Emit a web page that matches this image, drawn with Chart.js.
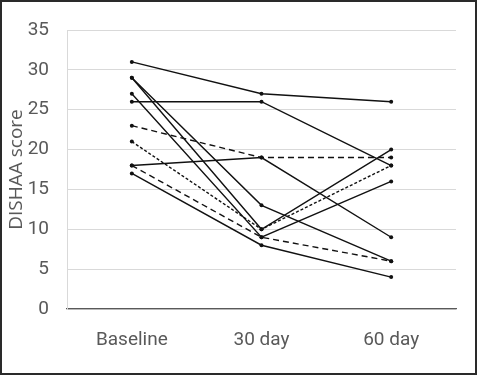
<!DOCTYPE html>
<html>
<head>
<meta charset="utf-8">
<script src="https://cdn.jsdelivr.net/npm/chart.js@4.4.1/dist/chart.umd.min.js"></script>
<style>
  html, body { margin: 0; padding: 0; background: #fff; }
  #wrap { position: relative; width: 477px; height: 375px; }
  #frame { position: absolute; left: 0; top: 0; width: 477px; height: 375px; box-sizing: border-box; border: 2px solid #2a2a2a; pointer-events: none; }
</style>
</head>
<body>
<div id="wrap">
  <canvas id="chart" width="477" height="375"></canvas>
  <div id="frame"></div>
</div>
<script>
// ===== data =====
const categories = ["Baseline", "30 day", "60 day"];
const yTicks = [0, 5, 10, 15, 20, 25, 30, 35];

const patient1 = [31, 27, 26];
const patient2 = [26, 26, 18];
const patient3 = [29, 13, 6];
const patient4 = [29, 10, 20];
const patient5 = [27, 9, 16];
const patient6 = [18, 19, 9];
const patient7 = [17, 8, 4];
const patient8 = [23, 19, 19];   // dashed
const patient9 = [21, 10, 18];   // fine dashes
const patient10 = [18, 9, 6];    // dashed

function series(values, dash) {
  return {
    data: values,
    borderColor: "#111",
    backgroundColor: "#111",
    borderWidth: 1.4,
    borderDash: dash || [],
    pointRadius: 2,
    pointHoverRadius: 2,
    pointBorderWidth: 0,
    tension: 0,
    fill: false
  };
}

const datasets = [
  series(patient1),
  series(patient2),
  series(patient3),
  series(patient4),
  series(patient5),
  series(patient6),
  series(patient7),
  series(patient8, [6, 4]),
  series(patient9, [3, 2]),
  series(patient10, [6, 4])
];

const gray = "#595959";
const tickFont = { family: "Roboto, 'Open Sans', sans-serif", size: 19 };
const titleFont = { family: "'Open Sans', 'Liberation Sans', sans-serif", size: 19 };

new Chart(document.getElementById("chart"), {
  type: "line",
  data: { labels: categories, datasets: datasets },
  options: {
    responsive: false,
    animation: false,
    layout: { padding: { top: 30, right: 21, bottom: 0, left: 0 } },
    plugins: { legend: { display: false }, tooltip: { enabled: false } },
    scales: {
      x: {
        offset: true,
        grid: { display: false, drawTicks: false },
        border: { display: true, color: gray, width: 1.2 },
        ticks: { color: gray, font: tickFont, padding: 20, maxRotation: 0 },
        afterFit: s => { s.height = 66; }
      },
      y: {
        min: 0,
        max: 35,
        afterBuildTicks: s => { s.ticks = yTicks.map(v => ({ value: v })); },
        grid: { color: "#d9d9d9", lineWidth: 1, drawTicks: false },
        border: { display: true, color: "#d9d9d9" },
        ticks: { color: gray, font: tickFont, padding: 18 },
        title: {
          display: true,
          text: "DISHAA score",
          color: gray,
          font: titleFont,
          padding: { top: 5, bottom: 0 }
        },
        afterFit: s => { s.width = 67; }
      }
    }
  }
});
</script>
</body>
</html>
